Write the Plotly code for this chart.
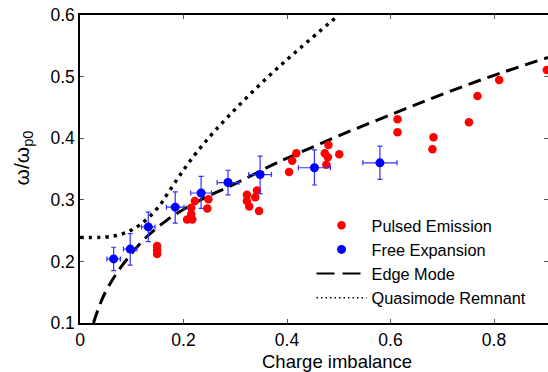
import plotly.graph_objects as go

# Pulsed Emission (red)
pulsed_x = [0.149, 0.149, 0.149, 0.207, 0.217, 0.215, 0.215, 0.222, 0.248, 0.246,
            0.3225, 0.3225, 0.327, 0.342, 0.3386, 0.346,
            0.404, 0.410, 0.418, 0.473, 0.480, 0.479, 0.476, 0.501,
            0.6135, 0.6135, 0.683, 0.681, 0.7515, 0.768, 0.810, 0.902]
pulsed_y = [0.225, 0.218, 0.212, 0.268, 0.268, 0.277, 0.287, 0.298, 0.301, 0.286,
            0.308, 0.298, 0.289, 0.315, 0.304, 0.282,
            0.345, 0.3635, 0.3755, 0.3755, 0.389, 0.369, 0.357, 0.374,
            0.4307, 0.4096, 0.4015, 0.382, 0.4258, 0.4685, 0.4945, 0.5107]

# Free Expansion (blue) with error bars
free_x = [0.065, 0.097, 0.132, 0.184, 0.234, 0.286, 0.348, 0.453, 0.5795]
free_y = [0.204, 0.220, 0.256, 0.288, 0.311, 0.328, 0.341, 0.352, 0.360]
free_xerr = [0.013, 0.013, 0.013, 0.017, 0.020, 0.021, 0.022, 0.031, 0.033]
free_yerr_plus = [0.019, 0.025, 0.024, 0.025, 0.027, 0.020, 0.030, 0.029, 0.027]
free_yerr_minus = [0.019, 0.026, 0.024, 0.026, 0.025, 0.020, 0.031, 0.028, 0.027]

# Edge Mode (dashed)
edge_x = [0.026, 0.045, 0.071, 0.100, 0.129, 0.168, 0.207, 0.245, 0.290, 0.335,
          0.380, 0.445, 0.503, 0.606, 0.696, 0.793, 0.9043]
edge_y = [0.100, 0.143, 0.181, 0.213, 0.240, 0.267, 0.288, 0.305, 0.322, 0.341,
          0.360, 0.384, 0.405, 0.440, 0.470, 0.500, 0.531]

# Quasimode Remnant (dotted)
quasi_x = [0.0, 0.04, 0.07, 0.095, 0.115, 0.135, 0.155, 0.17, 0.19, 0.21, 0.24,
           0.285, 0.36, 0.425, 0.5]
quasi_y = [0.239, 0.239, 0.242, 0.249, 0.259, 0.273, 0.292, 0.311, 0.336, 0.360,
           0.392, 0.434, 0.497, 0.546, 0.600]

x_ticks = [0, 0.2, 0.4, 0.6, 0.8]
y_ticks = [0.1, 0.2, 0.3, 0.4, 0.5, 0.6]
x_range = [0, 0.9043]
y_range = [0.1, 0.6]

FONT = "Liberation Sans, Arial, Helvetica, sans-serif"

fig = go.Figure()

fig.add_trace(go.Scatter(
    x=edge_x, y=edge_y, mode="lines", name="Edge Mode",
    line=dict(color="black", width=3, dash="13px,7px", shape="spline"),
    showlegend=False, hoverinfo="skip"))
fig.add_trace(go.Scatter(
    x=quasi_x, y=quasi_y, mode="lines", name="Quasimode Remnant",
    line=dict(color="black", width=3.4, dash="3.4px,5px", shape="spline"),
    showlegend=False, hoverinfo="skip"))

fig.add_trace(go.Scatter(
    x=pulsed_x, y=pulsed_y, mode="markers", name="Pulsed Emission",
    marker=dict(color="#ff0000", size=8.5, line=dict(width=0))))
fig.add_trace(go.Scatter(
    x=free_x, y=free_y, mode="markers", name="Free Expansion",
    marker=dict(color="#0000ff", size=9, line=dict(width=0)),
    error_y=dict(type="data", symmetric=False, array=free_yerr_plus,
                 arrayminus=free_yerr_minus, color="#3333ff", thickness=1.2, width=2.5),
    error_x=dict(type="data", array=free_xerr, color="#3333ff", thickness=1.2, width=2.5)))

# legend-only line entries
fig.add_trace(go.Scatter(
    x=[None], y=[None], mode="lines", name="Edge Mode",
    line=dict(color="black", width=2, dash="18px,8px")))
fig.add_trace(go.Scatter(
    x=[None], y=[None], mode="lines", name="Quasimode Remnant",
    line=dict(color="black", width=1.5, dash="1.5px,3px")))

# invisible trace to carry the right-hand tick axis
fig.add_trace(go.Scatter(x=[None], y=[None], yaxis="y2", showlegend=False,
                         hoverinfo="skip"))

TICKFONT = dict(family=FONT, size=17.5, color="black")

fig.update_layout(
    xaxis=dict(range=x_range, tickvals=x_ticks,
               ticktext=[("0" if v == 0 else f"{v:.1f}") for v in x_ticks],
               showline=True, linecolor="black", linewidth=1.5, mirror="ticks",
               ticks="inside", ticklen=4, tickcolor="#555555", tickwidth=1,
               showgrid=False, zeroline=False, tickfont=TICKFONT),
    yaxis=dict(range=y_range, tickvals=y_ticks,
               ticktext=[f"{v:.1f}" for v in y_ticks],
               showline=True, linecolor="black", linewidth=1.5, mirror=False,
               ticks="inside", ticklen=4, tickcolor="#555555", tickwidth=1,
               showgrid=False, zeroline=False, tickfont=TICKFONT),
    yaxis2=dict(range=y_range, tickvals=y_ticks, overlaying="y", side="right",
                anchor="x", showline=False, ticks="inside", ticklen=4,
                tickcolor="#555555", tickwidth=1, showticklabels=False,
                showgrid=False, zeroline=False),
)

# axis titles
fig.add_annotation(text="Charge imbalance", xref="paper", yref="paper",
                   x=(337 - 80) / 468, y=-(361.5 - 323) / 308,
                   xanchor="center", yanchor="middle", showarrow=False,
                   font=dict(family=FONT, size=18.5, color="black"))
fig.add_annotation(text="ω/ω<sub>p0</sub>", xref="paper", yref="paper",
                   x=(22 - 80) / 468, y=(323 - 158.5) / 308, textangle=-90,
                   xanchor="center", yanchor="middle", showarrow=False,
                   font=dict(family=FONT, size=21, color="black"))

fig.update_layout(
    width=548, height=372,
    margin=dict(l=80, r=0, t=15, b=49),
    plot_bgcolor="white", paper_bgcolor="white",
    font=dict(family=FONT, size=16, color="black"),
    legend=dict(x=0.4947, y=0.373, xanchor="left", yanchor="top",
                bgcolor="rgba(0,0,0,0)", borderwidth=0,
                font=dict(family=FONT, size=16.3, color="black"),
                itemwidth=50, tracegroupgap=0),
)

fig.write_html("out.html")
